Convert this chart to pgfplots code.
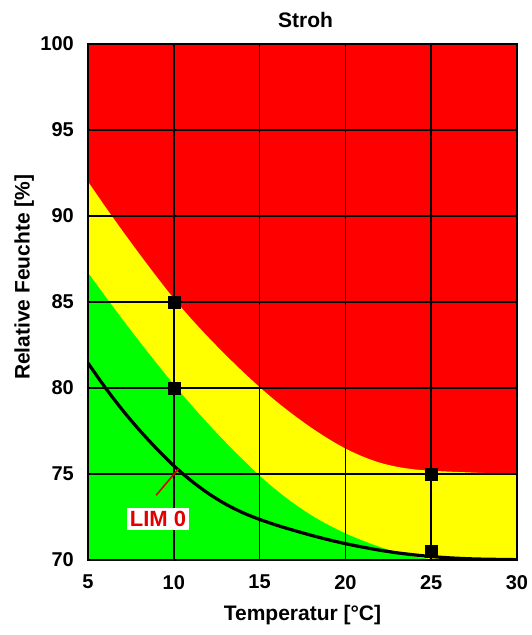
\documentclass[border=0pt]{standalone}
\usepackage{fontspec}
\setmainfont{Liberation Sans}
\usepackage{pgfplots}
\pgfplotsset{compat=1.18}
\definecolor{rred}{RGB}{255,0,0}
\definecolor{ryellow}{RGB}{255,255,0}
\definecolor{rgreen}{RGB}{0,255,0}
\definecolor{limred}{RGB}{225,0,0}
\begin{document}
\begin{tikzpicture}
\begin{axis}[
 at={(0pt,0pt)}, anchor=south west,
 scale only axis, width=429pt, height=516pt,
 xmin=5, xmax=30, ymin=70, ymax=100,
 xtick={5,10,...,30}, ytick={70,75,...,100},
 grid=major, major grid style={black, line width=1.7pt},
 axis line style={line width=2.8pt},
 major tick length=0pt,
 axis on top,
 axis background/.style={fill=rred},
 /pgf/number format/assume math mode=true,
 ticklabel style={font=\fontsize{20}{20}\selectfont\bfseries},
 yticklabel style={anchor=east, inner sep=0pt, xshift=-14pt},
 xticklabel style={anchor=north, inner sep=0pt, yshift=-15pt},
 xlabel={Temperatur [°C]}, ylabel={Relative Feuchte [\%]},
 label style={font=\fontsize{21}{21}\selectfont\bfseries},
 xlabel style={at={(axis description cs:0.5,-0.106)}, anchor=center},
 ylabel style={at={(axis description cs:-0.149,0.548)}, anchor=center},
 title={Stroh},
 title style={at={(axis description cs:0.507,1.035)}, anchor=center, font=\fontsize{21}{21}\selectfont\bfseries},
]
% yellow zone (below red/yellow boundary)
\addplot[fill=ryellow, draw=none, smooth] coordinates {
(5,92.0)(6,90.55)(7,89.15)(8,87.79)(9,86.47)(10,85.2)(11,84.04)(12,82.96)(13,81.94)(14,80.97)(15,80.05)
(16,79.2)(17,78.42)(18,77.7)(19,77.05)(20,76.48)(21,76.02)(22,75.66)(23,75.42)(24,75.27)(25,75.19)
(26,75.14)(27,75.1)(28,75.06)(29,75.03)(30,75.0)} \closedcycle;
% green zone
\addplot[fill=rgreen, draw=none, smooth] coordinates {
(5,86.7)(6,85.34)(7,84.0)(8,82.7)(9,81.43)(10,80.2)(11,79.03)(12,77.92)(13,76.86)(14,75.86)(15,74.9)
(16,74.04)(17,73.28)(18,72.61)(19,72.04)(20,71.55)(21,71.13)(22,70.76)(23,70.44)(24,70.2)(25,70.05)
(26,70.0)(30,70.0)} \closedcycle;
% LIM 0 curve
\addplot[black, line width=3.2pt, smooth] coordinates {
(5,81.45)(6,80.03)(7,78.73)(8,77.55)(9,76.47)(10,75.48)(11,74.62)(12,73.88)(13,73.26)(14,72.76)(15,72.36)
(16,72.02)(17,71.72)(18,71.44)(19,71.18)(20,70.95)(21,70.75)(22,70.57)(23,70.42)(24,70.3)(25,70.2)
(26,70.13)(27,70.08)(28,70.05)(30,70.02)};
% markers
\addplot[only marks, mark=square*, mark size=6pt, black] coordinates {(10,85)(10,80)(25,75)(25,70.5)};
\coordinate (limtxt) at (axis cs:9.08,72.37);
\coordinate (lA) at (axis cs:8.97,73.76);
\coordinate (lB) at (axis cs:10.27,75.3);
\end{axis}
\draw[limred, line width=1.6pt] (lA) -- (lB);
\node[fill=white, text=limred, inner xsep=3pt, inner ysep=3pt, font=\fontsize{22}{22}\selectfont\bfseries] at (limtxt) {LIM 0};
\pgfresetboundingbox
\path[use as bounding box] (-88pt,-75pt) rectangle (443pt,560pt);
\end{tikzpicture}
\end{document}
